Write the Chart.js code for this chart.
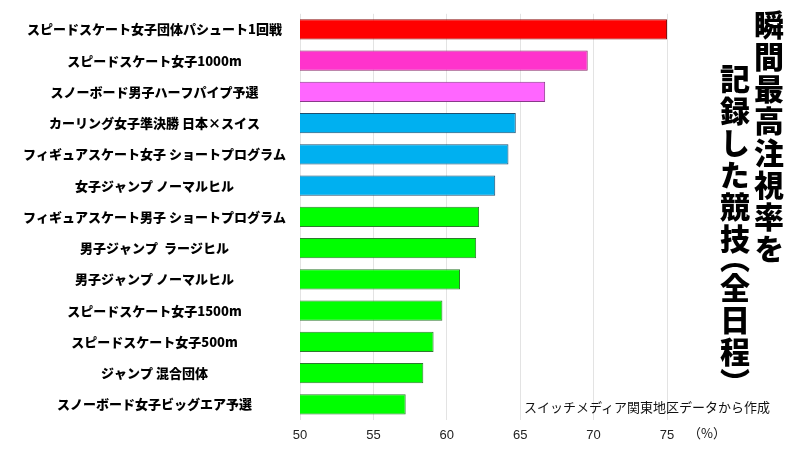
<!DOCTYPE html>
<html>
<head>
<meta charset="utf-8">
<script src="https://cdn.jsdelivr.net/npm/chart.js@4/dist/chart.umd.min.js"></script>
<style>
  html, body { margin: 0; padding: 0; background: #fff; }
  #wrap { position: relative; width: 800px; height: 450px; }
  #c { position: absolute; left: 0; top: 0; }
  .vt { position: absolute; writing-mode: vertical-rl; font-family: "Noto Sans CJK JP", sans-serif; font-weight: 900; font-size: 30px; line-height: 30px; color: #000; letter-spacing: 2px; }
  .vt .p { font-feature-settings: "vpal"; }
  .note { position: absolute; font-family: "Noto Sans CJK JP", sans-serif; font-size: 13px; color: #111; white-space: nowrap; }
</style>
</head>
<body>
<div id="wrap">
  <canvas id="c" width="800" height="450"></canvas>
  <div class="vt" style="left:754px; top:10px;">瞬間最高注視率を</div>
  <div class="vt" style="left:720px; top:64px;">記録した競技<span class="p">（</span>全日程<span class="p">）</span></div>
  <div class="note" style="left:524px; top:397px;">スイッチメディア関東地区データから作成</div>
  <div class="note" style="left:688px; top:423px;">（%）</div>
</div>
<script>
const categories = [
  "スピードスケート女子団体パシュート1回戦",
  "スピードスケート女子1000m",
  "スノーボード男子ハーフパイプ予選",
  "カーリング女子準決勝 日本×スイス",
  "フィギュアスケート女子 ショートプログラム",
  "女子ジャンプ ノーマルヒル",
  "フィギュアスケート男子 ショートプログラム",
  "男子ジャンプ  ラージヒル",
  "男子ジャンプ ノーマルヒル",
  "スピードスケート女子1500m",
  "スピードスケート女子500m",
  "ジャンプ 混合団体",
  "スノーボード女子ビッグエア予選"
];
const values = [75.0, 69.6, 66.7, 64.7, 64.2, 63.3, 62.2, 62.0, 60.9, 59.7, 59.1, 58.4, 57.2];
const barColors = ["#ff0000", "#ff33cc", "#ff66ff", "#00b0f0", "#00b0f0", "#00b0f0",
  "#00ff00", "#00ff00", "#00ff00", "#00ff00", "#00ff00", "#00ff00", "#00ff00"];
const borderColors = ["#8a1010", "#8a2a6a", "#8a3a8a", "#1f4f6f", "#1f4f6f", "#1f4f6f",
  "#2f7a2f", "#2f7a2f", "#2f7a2f", "#2f7a2f", "#2f7a2f", "#2f7a2f", "#2f7a2f"];
const xTicks = [50, 55, 60, 65, 70, 75];

new Chart(document.getElementById('c'), {
  type: 'bar',
  data: {
    labels: categories,
    datasets: [{
      data: values,
      backgroundColor: barColors,
      borderColor: borderColors,
      borderWidth: 1,
      borderSkipped: false,
      categoryPercentage: 1,
      barPercentage: 0.65
    }]
  },
  options: {
    indexAxis: 'y',
    responsive: false,
    animation: false,
    layout: { padding: { top: 4, right: 133, bottom: 0, left: 0 } },
    plugins: { legend: { display: false }, tooltip: { enabled: false }, title: { display: false } },
    scales: {
      x: {
        min: xTicks[0],
        max: xTicks[xTicks.length - 1],
        afterBuildTicks: (s) => { s.ticks = xTicks.map(v => ({ value: v })); },
        afterFit: (s) => { s.height = 30; },
        grid: { color: '#e3e3e3', drawTicks: false, lineWidth: 1 },
        border: { display: false },
        ticks: { padding: 8, color: '#222', font: { family: 'Liberation Sans, Arial, sans-serif', size: 13 } }
      },
      y: {
        afterFit: (s) => { s.width = 300; },
        grid: { display: false },
        border: { display: false },
        ticks: {
          crossAlign: 'center',
          padding: 6,
          color: '#000',
          autoSkip: false,
          font: { family: '"Noto Sans CJK JP", sans-serif', size: 13, weight: '900' }
        }
      }
    }
  }
});
</script>
</body>
</html>
